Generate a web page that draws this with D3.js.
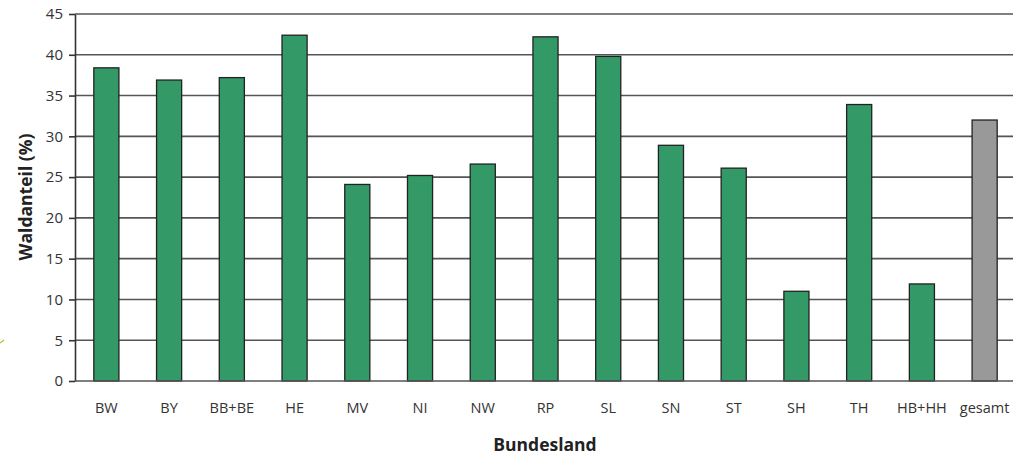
<!DOCTYPE html>
<html><head><meta charset="utf-8">
<script src="https://cdn.jsdelivr.net/npm/d3@7"></script>
<style>body{margin:0;background:#fff;} svg{display:block;}</style>
</head><body>
<svg id="c" width="1013" height="455"></svg>
<script>
const categories = ["BW","BY","BB+BE","HE","MV","NI","NW","RP","SL","SN","ST","SH","TH","HB+HH","gesamt"];
const values = [38.4,36.9,37.2,42.4,24.1,25.2,26.6,42.2,39.8,28.9,26.1,11.0,33.9,11.9,32.0];
const yTicks = [0,5,10,15,20,25,30,35,40,45];
const yTitle = "Waldanteil (%)";
const xTitle = "Bundesland";

const svg = d3.select("#c");
const font = "'Open Sans', 'Liberation Sans', sans-serif";
const x = d3.scaleBand().domain(categories).range([75, 1016]).paddingInner(0.6).paddingOuter(0.3);
const y = d3.scaleLinear().domain([0,45]).range([381, 14]);

// gridlines
svg.append("g").selectAll("line").data(yTicks.filter(d=>d>0)).join("line")
  .attr("x1",75).attr("x2",1013).attr("y1",d=>y(d)).attr("y2",d=>y(d))
  .attr("stroke","#555").attr("stroke-width",1.6);

// bars
svg.append("g").selectAll("rect").data(categories).join("rect")
  .attr("x",d=>x(d)).attr("width",x.bandwidth())
  .attr("y",(d,i)=>y(values[i])).attr("height",(d,i)=>y(0)-y(values[i]))
  .attr("fill",d=>d==="gesamt"?"#999999":"#339966")
  .attr("stroke","#222").attr("stroke-width",1.3);

// y axis
const ya = svg.append("g").attr("transform","translate(75,0)")
  .call(d3.axisLeft(y).tickValues(yTicks).tickSize(6).tickPadding(6).tickSizeOuter(0));
ya.select(".domain").attr("stroke","#333").attr("stroke-width",1.6);
ya.selectAll(".tick line").attr("stroke","#333").attr("stroke-width",1.6);
ya.selectAll("text").attr("font-family",font).attr("font-size",15).attr("fill","#333");

// x axis
const xa = svg.append("g").attr("transform","translate(0,381)")
  .call(d3.axisBottom(x).tickSize(0).tickPadding(22));
xa.select(".domain").attr("d","M75,0H1013").attr("stroke","#555").attr("stroke-width",1.6);
xa.selectAll("text").attr("font-family",font).attr("font-size",14.5).attr("fill","#333");

// titles
svg.append("text").attr("x",545).attr("y",451).attr("text-anchor","middle")
  .attr("font-family",font).attr("font-weight","bold").attr("font-size",17.5).attr("fill","#222").text(xTitle);
svg.append("text").attr("transform","translate(32,197) rotate(-90)").attr("text-anchor","middle")
  .attr("font-family",font).attr("font-weight","bold").attr("font-size",17.5).attr("fill","#222").text(yTitle);

// small green mark at left edge
svg.append("path").attr("d","M0,343 L4,340").attr("stroke","#9c3").attr("stroke-width",1.2).attr("fill","none");
</script>
</body></html>
